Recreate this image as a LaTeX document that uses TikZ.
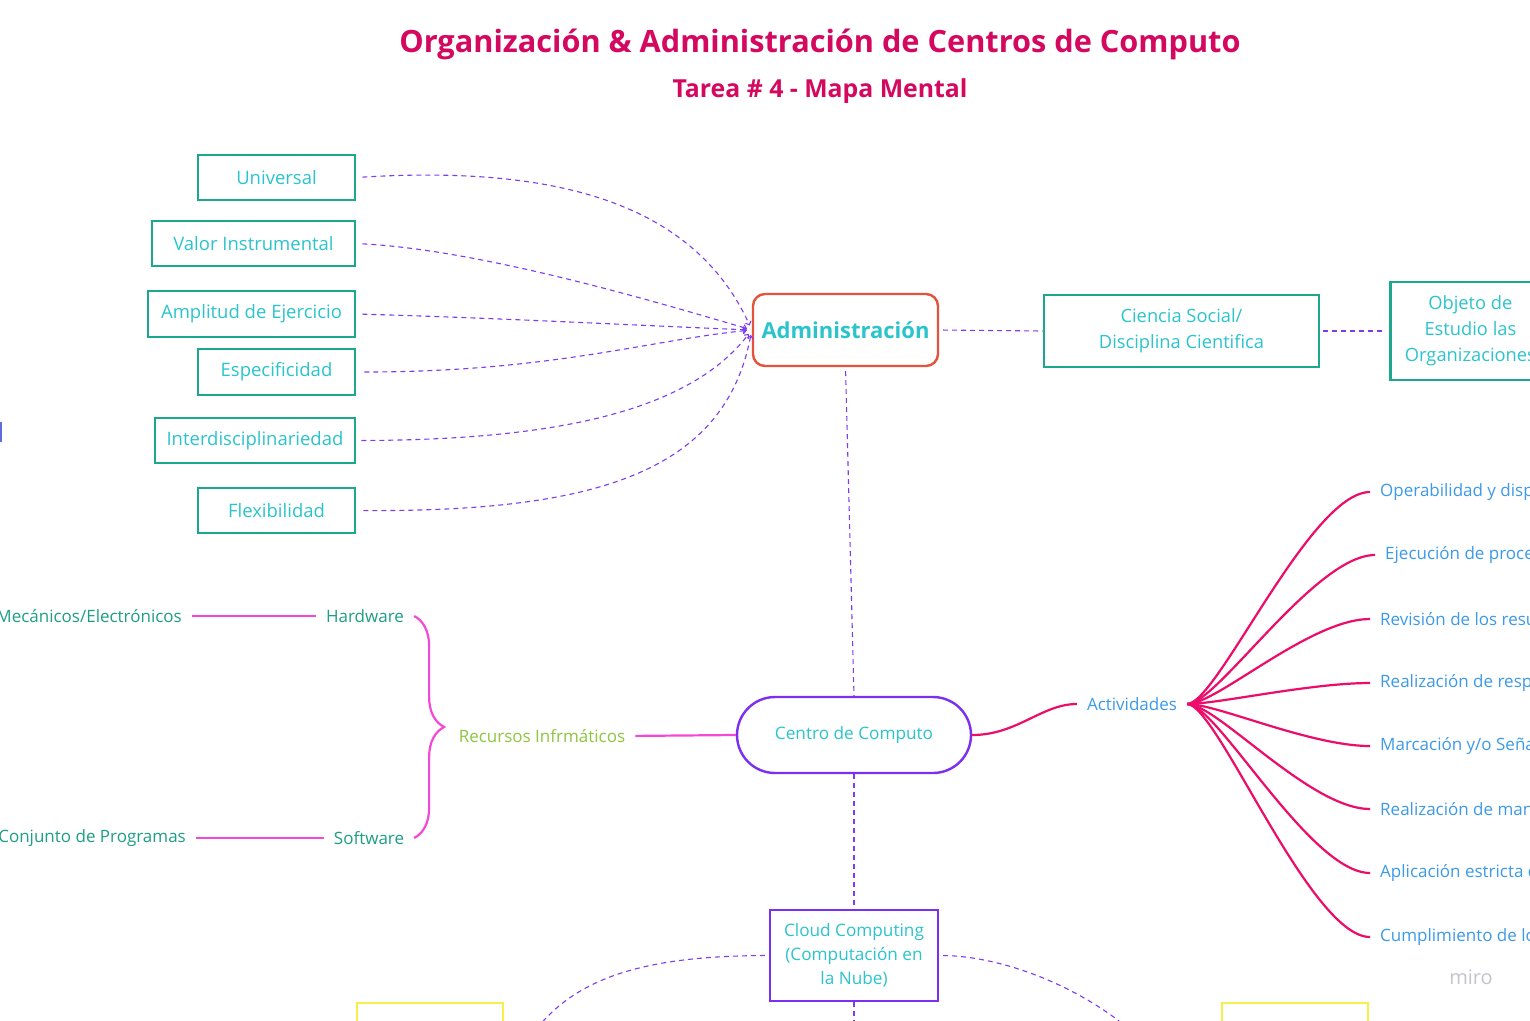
\documentclass[tikz,border=0pt]{standalone}
\usepackage{fontspec}
\setmainfont{Open Sans}
\usetikzlibrary{arrows.meta,decorations.pathreplacing}
\definecolor{ttl}{HTML}{D4085F}
\definecolor{tealb}{HTML}{1BA88C}
\definecolor{cyant}{HTML}{2CC4CC}
\definecolor{admb}{HTML}{E5533C}
\definecolor{purp}{HTML}{7D3CF0}
\definecolor{purb}{HTML}{7B2FF0}
\definecolor{magl}{HTML}{F548D8}
\definecolor{recg}{HTML}{8DC63F}
\definecolor{hwt}{HTML}{1E9E86}
\definecolor{crim}{HTML}{EC0C6A}
\definecolor{actb}{HTML}{3C9AE8}
\definecolor{yelb}{HTML}{F8F04A}
\definecolor{mirog}{HTML}{C4C4CC}
\definecolor{edgeb}{HTML}{5B6FD8}
\begin{document}
\begin{tikzpicture}[x=1pt,y=-1pt,
  tbox/.style={draw=tealb,line width=2.8pt,inner sep=0pt,minimum height=45pt,text=cyant,font=\fontsize{18.5}{22}\selectfont},
  dsh/.style={purp,line width=1.1pt,dash pattern=on 5pt off 4pt},
  arr/.style={dsh,-{Straight Barb[length=3pt,width=6pt]}},
  magline/.style={magl,line width=2.2pt},
  actline/.style={crim,line width=2.2pt},
  plain/.style={inner sep=0pt,font=\fontsize{17}{20}\selectfont},
  item/.style={plain,anchor=west,text=actb},
]
\useasboundingbox (0,0) rectangle (1530,1020);
\clip (0,0) rectangle (1530,1020);
\fill[white] (0,0) rectangle (1530,1020);

% titles
\node[text=ttl,font=\fontsize{30.7}{36}\selectfont\bfseries] (title) at (820,44) {Organización \& Administración de Centros de Computo};
\node[text=ttl,font=\fontsize{24.8}{30}\selectfont\bfseries] (sub) at (820,91) {Tarea \# 4 - Mapa Mental};

% left boxes
\node[tbox,minimum width=157pt] (u) at (276.5,177.5) {Universal};
\node[tbox,minimum width=203pt] (v) at (253.5,243.5) {Valor Instrumental};
\node[tbox,minimum width=207pt,minimum height=46pt] (a) at (251.5,314) {Amplitud de Ejercicio};
\node[tbox,minimum width=157pt,minimum height=46pt] (e) at (276.5,372) {Especificidad};
\node[tbox,minimum width=200pt] (i) at (255,440.5) {Interdisciplinariedad};
\node[tbox,minimum width=157pt] (f) at (276.5,510.5) {Flexibilidad};

% Administracion
\node[draw=admb,line width=2.4pt,rounded corners=12pt,minimum width=185pt,minimum height=72pt,inner sep=0pt,text=cyant,font=\fontsize{22}{26}\selectfont\bfseries] (adm) at (845.5,330) {Administración};

\node[tbox,minimum width=275pt,minimum height=72pt,align=center,font=\fontsize{18.3}{26}\selectfont] (cs) at (1181.5,331) {Ciencia Social/\\Disciplina Cientifica};
\node[tbox,minimum width=160pt,minimum height=98pt,align=center,font=\fontsize{18.3}{26}\selectfont,anchor=west] (obj) at (1389,331) {Objeto de\\Estudio las\\Organizaciones};

% left connectors
\draw[arr,shorten <=6pt,shorten >=5pt] (u.east) .. controls (560,165) and (695,205) .. (adm.west);
\draw[arr,shorten <=6pt,shorten >=5pt] (v.east) .. controls (480,250) and (650,300) .. (adm.west);
\draw[arr,shorten <=6pt,shorten >=5pt] (a.east) .. controls (500,318) and (650,326) .. (adm.west);
\draw[arr,shorten <=8pt,shorten >=5pt] (e.east) .. controls (550,372) and (650,340) .. (adm.west);
\draw[arr,shorten <=5pt,shorten >=5pt] (i.east) .. controls (560,440) and (690,410) .. (adm.west);
\draw[arr,shorten <=7pt,shorten >=5pt] (f.east) .. controls (600,512) and (725,470) .. (adm.west);

\draw[dsh,shorten <=4pt] (adm.east) -- (cs.west);
\draw[dsh,shorten <=3pt,shorten >=4pt] (cs.east) -- (obj.west);

% Centro de Computo
\node[draw=purb,line width=2.4pt,rounded corners=38pt,minimum width=234pt,minimum height=76pt,inner sep=0pt,text=cyant,font=\fontsize{17.2}{20}\selectfont] (cc) at (854,735) {Centro de Computo};
\draw[dsh,shorten <=4pt] (adm.south) -- (cc.north);

% recursos
\node[plain,text=recg] (rec) at (542,736) {Recursos Infrmáticos};
\draw[magline,shorten <=10pt] (rec.east) -- (cc.west);
\node[plain,text=hwt] (hw) at (365,616) {Hardware};
\node[plain,text=hwt] (sw) at (369,838) {Software};
\node[plain,text=hwt,anchor=east] (mec) at (182,616) {Mecánicos/Electrónicos};
\node[plain,text=hwt,anchor=east] (con) at (186,838) {Conjunto de Programas};
\draw[magline,shorten <=10pt,shorten >=10pt] (mec.east) -- (hw.west);
\draw[magline,shorten <=10pt,shorten >=10pt] (con.east) -- (sw.west);
\coordinate (bt) at ([xshift=10pt]hw.east);
\coordinate (bb) at (bt |- sw.east);
\draw[magline,decorate,decoration={brace,amplitude=30pt,aspect=0.5}] (bt) -- (bb);

% actividades
\node[plain,text=actb] (actv) at (1132,704) {Actividades};
\draw[actline,shorten >=10pt] (cc.east) .. controls +(45,0) and +(-45,0) .. (actv.west);
\node[item] (i1) at (1380,492) {Operabilidad y disponibilidad};
\node[item] (i2) at (1385,555) {Ejecución de procesos};
\node[item] (i3) at (1380,619) {Revisión de los resultados};
\node[item] (i4) at (1380,683) {Realización de respaldos};
\node[item] (i5) at (1380,746) {Marcación y/o Señalización};
\node[item] (i6) at (1380,809) {Realización de mantenimiento};
\node[item] (i7) at (1380,873) {Aplicación estricta de};
\node[item] (i8) at (1380,937) {Cumplimiento de los};
\foreach \k in {1,...,8}{
  \draw[actline,shorten <=10pt,shorten >=10pt] (actv.east) .. controls +(40,0) and +(-70,0) .. (i\k.west);
}

% cloud
\node[draw=purb,line width=2.4pt,minimum width=168pt,minimum height=91pt,inner sep=0pt,align=center,text=cyant,font=\fontsize{17.2}{24}\selectfont] (cl) at (854,955.5) {Cloud Computing\\(Computación en\\la Nube)};
\draw[dsh] (cc.south) -- (cl.north);
\coordinate (cb) at (854,1030);
\draw[dsh] (cl.south) -- (cb);

\node[draw=yelb,line width=2.5pt,minimum width=146pt,minimum height=44pt,inner sep=0pt] (y1) at (430,1025) {};
\node[draw=yelb,line width=2.5pt,minimum width=146pt,minimum height=44pt,inner sep=0pt] (y2) at (1295,1025) {};
\coordinate (cL) at (532,1035);
\coordinate (cR) at (1136,1035);
\draw[dsh,shorten <=4pt] (cl.west) .. controls (650,956) and (575,975) .. (cL);
\draw[dsh,shorten <=4pt] (cl.east) .. controls (1000,956) and (1080,985) .. (cR);

% misc
\draw[edgeb,line width=2pt] (1,422) -- (1,442);
\node[text=mirog,font=\fontsize{20}{24}\selectfont] (miro) at (1471,977) {miro};
\end{tikzpicture}
\end{document}
